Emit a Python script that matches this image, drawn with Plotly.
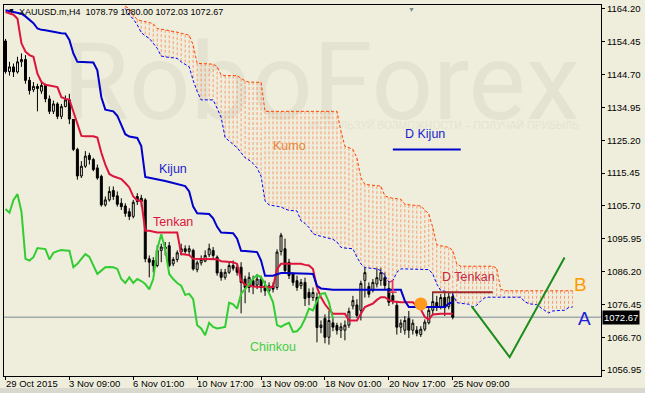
import plotly.graph_objects as go

# ---------------- data ----------------
bar_index = list(range(113))

open_ = [1154.7, 1145.6, 1147.0, 1145.5, 1148.5, 1149.2, 1143.0, 1140.2, 1141.2, 1139.8,
         1141.5, 1137.5, 1133.8, 1136.0, 1132.3, 1135.2, 1137.2, 1131.5, 1122.5, 1114.6,
         1117.5, 1120.7, 1119.5, 1117.0, 1114.5, 1106.0, 1107.5, 1110.3, 1108.7, 1106.5,
         1105.7, 1104.0, 1102.6, 1108.5, 1108.0, 1107.5, 1090.0, 1089.5, 1088.0, 1092.5,
         1093.5, 1093.9, 1088.5, 1089.8, 1092.0, 1093.0, 1092.2, 1092.5, 1086.8, 1088.8,
         1089.3, 1091.2, 1092.5, 1090.5, 1086.0, 1084.5, 1086.0, 1088.0, 1087.5, 1087.5,
         1084.0, 1081.5, 1083.5, 1082.2, 1084.0, 1082.0, 1080.5, 1082.0, 1081.5, 1092.2,
         1093.0, 1089.0, 1085.5, 1083.5, 1082.0, 1083.0, 1080.0, 1078.5, 1078.5, 1069.6,
         1072.3, 1066.7, 1071.0, 1070.2, 1068.8, 1068.8, 1070.3, 1076.0, 1076.3, 1074.7,
         1083.6, 1081.8, 1080.6, 1082.5, 1083.6, 1084.4, 1081.2, 1079.1, 1076.2, 1069.7,
         1068.8, 1072.3, 1068.8, 1068.8, 1067.5, 1069.1, 1071.0, 1074.7, 1077.0, 1075.8,
         1078.5, 1075.8, 1078.79]
high_ = [1155.3, 1148.5, 1148.0, 1150.0, 1151.0, 1150.5, 1144.0, 1142.5, 1142.0, 1142.5,
         1142.0, 1138.5, 1137.0, 1136.5, 1136.0, 1138.5, 1139.0, 1132.0, 1123.0, 1119.0,
         1122.0, 1121.5, 1120.0, 1118.0, 1115.0, 1108.5, 1111.5, 1111.5, 1110.0, 1108.0,
         1106.5, 1105.0, 1107.5, 1109.5, 1109.0, 1108.0, 1091.0, 1090.5, 1094.0, 1094.5,
         1095.0, 1095.0, 1090.5, 1092.5, 1094.5, 1094.0, 1094.0, 1093.0, 1089.5, 1091.0,
         1092.5, 1094.5, 1093.5, 1091.0, 1087.0, 1087.0, 1089.0, 1089.5, 1088.5, 1089.0,
         1085.0, 1086.0, 1085.0, 1085.5, 1085.0, 1083.5, 1083.0, 1083.0, 1092.8, 1097.7,
         1096.0, 1090.0, 1086.0, 1085.0, 1084.0, 1084.4, 1081.2, 1081.5, 1080.0, 1071.7,
         1073.5, 1074.5, 1072.5, 1071.0, 1071.0, 1071.7, 1075.5, 1079.0, 1078.0, 1083.5,
         1087.4, 1083.0, 1084.0, 1087.4, 1087.4, 1086.0, 1083.0, 1080.0, 1077.5, 1072.0,
         1073.0, 1074.5, 1072.0, 1070.0, 1070.0, 1072.0, 1075.5, 1080.3, 1079.0, 1079.5,
         1080.5, 1080.0, 1080.00]
low_ = [1145.0, 1144.4, 1144.0, 1145.0, 1147.0, 1142.0, 1138.8, 1139.5, 1133.8, 1139.0,
        1136.5, 1133.0, 1133.0, 1131.5, 1131.5, 1135.0, 1130.0, 1122.0, 1113.5, 1114.0,
        1117.0, 1118.0, 1116.0, 1113.5, 1105.5, 1105.5, 1107.0, 1107.5, 1105.5, 1104.5,
        1102.5, 1101.5, 1102.0, 1106.0, 1105.5, 1089.0, 1084.5, 1086.0, 1087.5, 1089.0,
        1091.0, 1087.5, 1087.8, 1089.0, 1091.0, 1091.5, 1091.0, 1086.5, 1086.0, 1088.0,
        1089.0, 1090.5, 1090.0, 1085.0, 1083.5, 1083.8, 1085.5, 1086.5, 1085.0, 1073.8,
        1076.8, 1080.0, 1079.5, 1081.0, 1080.0, 1079.0, 1080.0, 1080.0, 1080.8, 1091.0,
        1086.0, 1084.0, 1082.0, 1080.5, 1081.0, 1076.0, 1076.2, 1077.5, 1065.2, 1067.9,
        1064.9, 1064.5, 1068.5, 1067.5, 1066.5, 1065.8, 1069.5, 1075.0, 1072.5, 1071.7,
        1078.5, 1078.5, 1080.0, 1081.5, 1082.0, 1081.0, 1076.0, 1076.5, 1067.5, 1068.0,
        1067.5, 1066.5, 1067.5, 1067.0, 1066.8, 1068.5, 1070.5, 1073.5, 1074.5, 1075.0,
        1073.0, 1075.0, 1072.03]
close_ = [1145.6, 1147.0, 1145.5, 1148.5, 1149.2, 1143.0, 1140.0, 1141.2, 1140.6, 1141.5,
          1137.5, 1133.8, 1136.0, 1132.3, 1135.2, 1137.2, 1131.5, 1122.5, 1114.6, 1117.5,
          1120.5, 1119.5, 1116.5, 1114.0, 1106.0, 1107.5, 1110.0, 1108.5, 1106.2, 1105.5,
          1103.5, 1102.6, 1106.8, 1107.0, 1107.0, 1090.0, 1089.0, 1088.0, 1092.5, 1093.5,
          1093.0, 1088.0, 1089.8, 1091.8, 1093.0, 1092.2, 1093.0, 1087.0, 1088.8, 1089.8,
          1091.0, 1093.0, 1091.0, 1085.8, 1084.5, 1086.0, 1088.0, 1087.2, 1086.0, 1083.0,
          1081.5, 1084.5, 1082.0, 1084.0, 1081.5, 1080.5, 1082.0, 1081.0, 1092.0, 1097.0,
          1086.5, 1085.0, 1083.0, 1081.5, 1083.0, 1078.2, 1078.5, 1080.0, 1069.6, 1070.3,
          1066.7, 1071.7, 1069.7, 1068.8, 1069.8, 1070.3, 1074.4, 1077.6, 1073.2, 1082.7,
          1085.9, 1079.5, 1083.0, 1084.4, 1085.9, 1082.1, 1077.1, 1077.6, 1069.7, 1070.9,
          1071.7, 1068.8, 1070.9, 1067.9, 1069.1, 1071.2, 1074.7, 1077.3, 1075.8, 1078.5,
          1075.5, 1078.7, 1072.67]

tenkan = [1163.3, 1163.0, 1162.5, 1161.3, 1154.0, 1151.5, 1150.5, 1150.0, 1145.0, 1142.5,
          1141.7, 1141.5, 1141.2, 1141.0, 1138.0, 1137.5, 1137.3, 1133.5, 1130.0, 1126.5,
          1126.4, 1126.4, 1126.4, 1126.0, 1121.5, 1118.0, 1115.2, 1114.5, 1114.0, 1113.7,
          1112.5, 1111.2, 1108.5, 1107.4, 1107.2, 1098.3, 1098.3, 1098.0, 1097.8, 1097.8,
          1097.8, 1097.8, 1097.8, 1097.8, 1091.4, 1091.2, 1091.1, 1090.0, 1090.0, 1090.0,
          1089.9, 1089.9, 1089.9, 1089.9, 1089.3, 1089.2, 1089.1, 1089.0, 1088.5, 1083.5,
          1082.3, 1082.0, 1081.8, 1081.7, 1081.6, 1081.6, 1081.6, 1081.6, 1087.0, 1088.5,
          1088.5, 1088.5, 1088.5, 1088.5, 1088.5, 1088.2, 1088.0, 1087.0, 1081.5, 1078.6,
          1076.5, 1075.0, 1073.7, 1073.7, 1073.7, 1073.7, 1071.7, 1071.7, 1071.7, 1073.7,
          1075.7, 1076.2, 1076.7, 1077.8, 1078.6, 1078.6, 1077.8, 1077.3, 1077.1, 1077.1,
          1077.1, 1077.1, 1077.1, 1076.0, 1075.0, 1072.7, 1072.0, 1073.5, 1073.7, 1073.7,
          1073.7, 1073.7, 1073.7]

kijun = [1163.8, 1163.5, 1163.2, 1163.0, 1162.8, 1162.0, 1161.0, 1160.0, 1158.4, 1158.0,
         1157.9, 1157.6, 1157.4, 1157.2, 1157.0, 1156.9, 1155.0, 1151.0, 1148.5, 1148.5,
         1148.4, 1148.4, 1148.3, 1146.0, 1138.0, 1134.3, 1134.0, 1133.8, 1132.5, 1129.5,
         1127.0, 1126.3, 1126.1, 1125.9, 1123.5, 1114.3, 1114.1, 1113.9, 1113.7, 1113.4,
         1113.1, 1112.8, 1112.5, 1112.2, 1111.9, 1111.6, 1110.0, 1105.5, 1103.5, 1103.4,
         1103.4, 1103.3, 1102.0, 1099.5, 1097.8, 1097.7, 1097.7, 1097.6, 1096.0, 1092.4,
         1092.3, 1092.2, 1092.1, 1092.0, 1089.5, 1085.0, 1085.0, 1085.0, 1085.4, 1085.8,
         1085.8, 1085.8, 1085.8, 1085.8, 1085.7, 1085.6, 1085.6, 1085.5, 1082.0, 1081.2,
         1081.0, 1080.8, 1080.8, 1080.8, 1080.8, 1080.8, 1080.8, 1080.8, 1080.8, 1080.8,
         1080.8, 1080.8, 1080.8, 1080.8, 1080.8, 1080.8, 1080.8, 1080.8, 1080.8, 1080.8,
         1077.5, 1075.7, 1075.7, 1075.7, 1075.7, 1075.7, 1075.7, 1075.7, 1075.7, 1075.7,
         1075.7, 1076.7, 1077.1]

chinkou = [1104.8, 1103.7, 1107.5, 1109.2, 1104.0, 1090.0, 1089.5, 1090.5, 1093.2, 1093.0,
           1092.9, 1089.8, 1091.8, 1092.3, 1092.6, 1092.5, 1092.4, 1087.5, 1088.5, 1090.0,
           1091.4, 1090.6, 1088.0, 1085.5, 1086.5, 1087.5, 1087.6, 1087.5, 1087.0, 1084.0,
           1082.8, 1084.5, 1082.8, 1084.0, 1083.4, 1082.5, 1080.9, 1084.0, 1092.9, 1097.3,
           1092.9, 1085.5, 1084.0, 1082.8, 1082.0, 1079.3, 1079.6, 1078.0, 1070.3, 1069.3,
           1067.3, 1071.0, 1069.8, 1069.3, 1069.5, 1069.8, 1077.0, 1076.5, 1075.2, 1079.6,
           1081.0, 1082.5, 1084.1, 1085.2, 1084.5, 1082.5, 1079.5, 1077.1, 1070.3, 1069.8,
           1070.5, 1071.0, 1068.3, 1068.5, 1069.8, 1072.2, 1075.2, 1074.7, 1077.5, 1079.6,
           1079.8, 1077.1, 1072.2]

kumo_start = 30
span_b = [1165.0, 1164.3, 1162.5, 1161.0, 1160.7, 1160.5, 1160.2, 1159.8, 1158.4, 1158.2,
          1158.0, 1157.9, 1157.6, 1157.3, 1157.0, 1156.6, 1156.4, 1153.5, 1148.0, 1148.0,
          1148.0, 1148.0, 1147.8, 1147.1, 1144.6, 1144.4, 1144.4, 1144.4, 1144.4, 1143.6,
          1142.8, 1142.5, 1142.5, 1142.5, 1142.4, 1133.8, 1133.8, 1133.8, 1133.8, 1133.8,
          1133.8, 1133.8, 1133.8, 1133.8, 1133.8, 1133.8, 1133.8, 1133.8, 1133.8, 1133.8,
          1133.8, 1133.8, 1133.8, 1133.8, 1127.9, 1123.4, 1123.0, 1122.5, 1120.0, 1114.1,
          1112.1, 1112.0, 1111.8, 1111.6, 1111.6, 1108.7, 1108.2, 1108.0, 1107.8, 1107.7,
          1106.2, 1106.0, 1105.9, 1105.8, 1105.7, 1104.5, 1103.3, 1099.3, 1094.2, 1093.9,
          1093.7, 1093.4, 1092.5, 1088.5, 1087.8, 1087.8, 1087.8, 1087.8, 1087.8, 1087.8,
          1087.8, 1087.8, 1087.8, 1087.2, 1081.0, 1080.5, 1080.5, 1080.5, 1080.5, 1080.5,
          1080.5, 1080.5, 1080.5, 1080.5, 1080.5, 1080.5, 1080.5, 1080.5, 1080.5, 1080.5,
          1080.5, 1080.5, 1080.5]
span_a = [1164.3, 1162.5, 1161.2, 1159.5, 1157.2, 1156.2, 1155.5, 1154.0, 1152.5, 1150.2,
          1149.9, 1149.8, 1149.7, 1149.5, 1148.5, 1147.8, 1147.0, 1143.0, 1139.7, 1137.2,
          1137.2, 1137.2, 1137.2, 1134.7, 1132.0, 1126.0, 1125.0, 1124.0, 1123.0, 1121.5,
          1120.0, 1119.3, 1118.3, 1117.0, 1114.5, 1107.2, 1106.0, 1105.8, 1105.6, 1105.4,
          1104.8, 1104.4, 1104.3, 1104.2, 1101.3, 1100.5, 1099.3, 1097.5, 1097.0, 1096.7,
          1096.4, 1096.0, 1095.8, 1095.0, 1093.4, 1093.2, 1093.0, 1093.0, 1090.5, 1088.5,
          1087.4, 1087.2, 1087.1, 1087.0, 1086.5, 1085.0, 1083.1, 1083.5, 1086.0, 1087.0,
          1087.0, 1087.0, 1087.0, 1087.0, 1087.0, 1087.0, 1086.8, 1085.5, 1082.5, 1080.6,
          1080.4, 1080.1, 1079.5, 1077.0, 1076.8, 1076.7, 1076.5, 1075.7, 1076.2, 1077.5,
          1078.4, 1078.6, 1078.6, 1078.6, 1078.6, 1078.6, 1078.6, 1078.6, 1078.6, 1078.6,
          1077.3, 1076.7, 1076.5, 1076.4, 1075.5, 1074.7, 1073.9, 1074.5, 1074.7, 1074.7,
          1074.7, 1075.5, 1075.7]

price_ticks = [1056.95, 1066.70, 1076.45, 1086.20, 1095.95, 1105.70,
               1115.45, 1125.20, 1134.95, 1144.70, 1154.45, 1164.20]
time_tick_idx = [0, 16, 32, 48, 64, 80, 96, 112]
time_tick_text = ["29 Oct 2015", "3 Nov 09:00", "6 Nov 01:00", "10 Nov 17:00",
                  "13 Nov 09:00", "18 Nov 01:00", "20 Nov 17:00", "25 Nov 09:00"]
last_price = 1072.67
header_text = "XAUUSD.m,H4  1078.79 1080.00 1072.03 1072.67"

forecast_x = [116.75, 126.25, 140.0]
forecast_y = [1075.9, 1060.8, 1090.4]
d_kijun_x = [97, 114]
d_kijun_y = [1122.5, 1122.5]
d_tenkan_x = [107, 122]
d_tenkan_y = [1080.1, 1080.1]
signal_x = [104]
signal_y = [1076.6]

# ---------------- styling ----------------
BG = "#EFEEDC"
FONT = "Liberation Sans"
X_RANGE = [-0.375, 149.125]
Y_RANGE = [1055.2, 1165.38]

fig = go.Figure()

# watermark (below everything)
fig.add_trace(go.Scatter(x=[79.0], y=[1139.5], mode="text", text=["RoboForex"],
                         textfont=dict(family="Roboto", size=108, color="#E4E3D1"),
                         hoverinfo="skip", showlegend=False))
fig.add_trace(go.Scatter(x=[109.9], y=[1129.2], mode="text",
                         text=["ИСПОЛЬЗУЙ ВОЗМОЖНОСТИ – ПОЛУЧАЙ ПРИБЫЛЬ"],
                         textfont=dict(family=FONT, size=10.5, color="#E4E3D1"),
                         hoverinfo="skip", showlegend=False))

# kumo hatch: vertical dotted segments between the spans
hx, hy = [], []
for k in range(len(span_a)):
    hx += [kumo_start + k, kumo_start + k, None]
    hy += [span_b[k], span_a[k], None]
fig.add_trace(go.Scatter(x=hx, y=hy, mode="lines", opacity=0.75,
                         line=dict(color="#FF7F50", width=1, dash="3px,2px"),
                         hoverinfo="skip", showlegend=False))
kumo_x = [kumo_start + k for k in range(len(span_a))]
fig.add_trace(go.Scatter(x=kumo_x, y=span_b, mode="lines",
                         line=dict(color="#FF4500", width=1, dash="3px,2px"),
                         hoverinfo="skip", showlegend=False))
fig.add_trace(go.Scatter(x=kumo_x, y=span_a, mode="lines",
                         line=dict(color="#0000FF", width=1, dash="3px,2px"),
                         hoverinfo="skip", showlegend=False))

# candles
fig.add_trace(go.Candlestick(
    x=bar_index, open=open_, high=high_, low=low_, close=close_,
    increasing=dict(line=dict(color="black", width=1), fillcolor=BG),
    decreasing=dict(line=dict(color="black", width=1), fillcolor="black"),
    whiskerwidth=0, hoverinfo="skip", showlegend=False))

# ichimoku lines
fig.add_trace(go.Scatter(x=bar_index, y=tenkan, mode="lines",
                         line=dict(color="#DC143C", width=2), hoverinfo="skip", showlegend=False))
fig.add_trace(go.Scatter(x=bar_index, y=kijun, mode="lines",
                         line=dict(color="#0000CD", width=2), hoverinfo="skip", showlegend=False))
fig.add_trace(go.Scatter(x=bar_index[:len(chinkou)], y=chinkou, mode="lines",
                         line=dict(color="#32CD32", width=2), hoverinfo="skip", showlegend=False))

# drawn objects
fig.add_trace(go.Scatter(x=d_kijun_x, y=d_kijun_y, mode="lines",
                         line=dict(color="#0000CD", width=2), hoverinfo="skip", showlegend=False))
fig.add_trace(go.Scatter(x=d_tenkan_x, y=d_tenkan_y, mode="lines",
                         line=dict(color="#A52A2A", width=2), hoverinfo="skip", showlegend=False))
fig.add_trace(go.Scatter(x=forecast_x, y=forecast_y, mode="lines",
                         line=dict(color="#1A8C1A", width=2), hoverinfo="skip", showlegend=False))
fig.add_trace(go.Scatter(x=signal_x, y=signal_y, mode="markers",
                         marker=dict(color="#FF9A1E", size=13, line=dict(width=0)),
                         hoverinfo="skip", showlegend=False))

annotations = []
def label(x, y, text, color, size=12.5):
    annotations.append(dict(x=x, y=y, xref="x", yref="y", text=text, showarrow=False,
                            font=dict(family=FONT, size=size, color=color)))

label(42, 1116.6, "Kijun", "#1C1CD0")
label(42, 1101.0, "Tenkan", "#DC143C")
label(71, 1123.4, "Kumo", "#E8853A")
label(67, 1063.8, "Chinkou", "#44CC44")
label(105, 1127.0, "D Kijun", "#1C1CD0")
label(115.9, 1084.7, "D Tenkan", "#C8283C")
label(97, 1081.8, "1", "#E23C5A", size=19)
label(144, 1082.4, "B", "#FF9A00", size=19)
label(145, 1072.2, "A", "#2020D8", size=19)

# time axis labels (left-aligned at their tick, MT4 style)
for idx, txt in zip(time_tick_idx, time_tick_text):
    annotations.append(dict(x=idx, y=0, xref="x", yref="paper", text=txt, showarrow=False,
                            xanchor="left", yanchor="top", xshift=-1, yshift=-1, borderpad=0,
                            font=dict(family=FONT, size=9.5, color="black")))

# header
annotations.append(dict(x=14 / 598, y=1 - 7 / 373, xref="paper", yref="paper", text=header_text,
                        showarrow=False, xanchor="left", yanchor="middle", borderpad=0,
                        font=dict(family=FONT, size=9, color="black")))
annotations.append(dict(x=3 / 598, y=1 - 6 / 373, xref="paper", yref="paper", text="▼",
                        showarrow=False, xanchor="left", yanchor="middle", borderpad=0,
                        font=dict(family=FONT, size=7, color="black")))
annotations.append(dict(x=404 / 598, y=1, xref="paper", yref="paper", text="▼",
                        showarrow=False, xanchor="left", yanchor="top", borderpad=0,
                        font=dict(family=FONT, size=7, color="#7F8A99")))

# current price box
annotations.append(dict(x=1, y=last_price, xref="paper", yref="y", text=f"{last_price:.2f}",
                        showarrow=False, xanchor="left", yanchor="middle", xshift=1,
                        bgcolor="black", borderpad=1,
                        font=dict(family=FONT, size=9.5, color="white")))

shapes = [
    dict(type="line", xref="paper", yref="y", x0=0, x1=1, y0=last_price, y1=last_price,
         line=dict(color="#7A8796", width=1), layer="below"),
    dict(type="rect", xref="paper", yref="paper", x0=-0.01, x1=1.08,
         y0=-(12 / 373), y1=-(17 / 373), line=dict(width=0), fillcolor="#D9D8CE", layer="below"),
]

fig.update_layout(
    width=645, height=393,
    margin=dict(l=3, r=44, t=3, b=17, pad=0),
    paper_bgcolor=BG, plot_bgcolor=BG,
    showlegend=False,
    annotations=annotations,
    shapes=shapes,
    xaxis=dict(range=X_RANGE, showgrid=False, zeroline=False, showline=True, mirror=True,
               linecolor="black", linewidth=1, ticks="outside", ticklen=3, tickcolor="black",
               tickvals=time_tick_idx, showticklabels=False, rangeslider=dict(visible=False),
               fixedrange=True),
    yaxis=dict(range=Y_RANGE, side="right", showgrid=False, zeroline=False, showline=True,
               mirror=True, linecolor="black", linewidth=1, ticks="outside", ticklen=3,
               tickcolor="black", tickvals=price_ticks,
               ticktext=[f"{v:.2f}" for v in price_ticks],
               tickfont=dict(family=FONT, size=9.5, color="black"), fixedrange=True),
)

fig.write_html("out.html")
